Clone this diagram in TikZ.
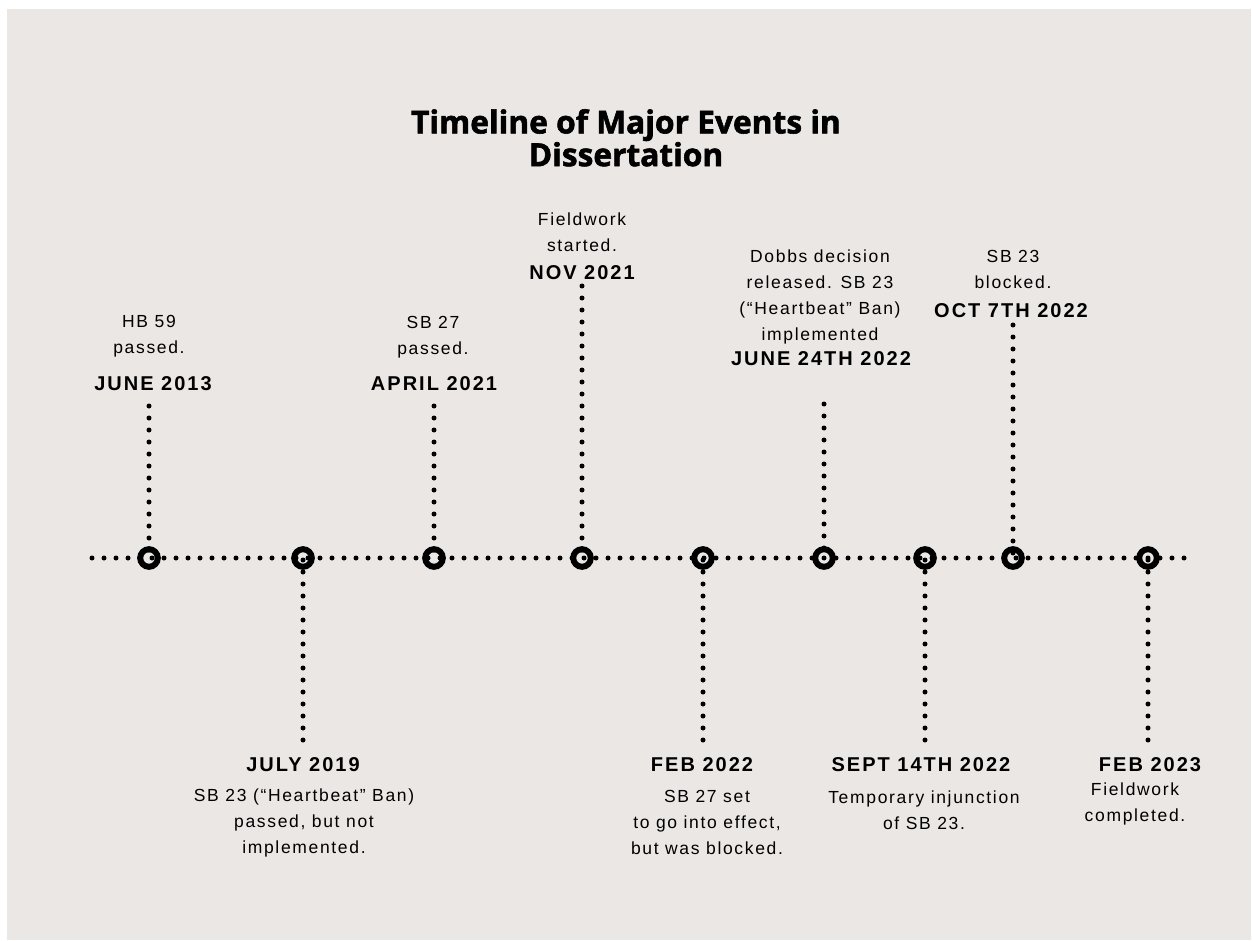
\documentclass[tikz,border=0pt]{standalone}
\usepackage{fontspec}
\setmainfont{Liberation Sans}
\newfontfamily\titlefont[BoldFeatures={FakeBold=1.8}]{Open Sans}
\newfontfamily\datefont[LetterSpace=10]{Liberation Sans}
\newfontfamily\descfont[LetterSpace=9.5]{Liberation Sans}
\definecolor{bggray}{RGB}{235,231,229}
\begin{document}
\begin{tikzpicture}[x=1pt,y=-1pt,
  dotline/.style={line width=5pt,line cap=round,dash pattern=on 0pt off 12pt},
  ring/.style={draw,line width=6pt,circle,minimum size=17.6pt,inner sep=0pt},
  datelbl/.style={anchor=north,inner sep=0pt,align=center,font=\datefont\bfseries\fontsize{20}{26}\selectfont},
  desclbl/.style={anchor=north,inner sep=0pt,align=center,font=\descfont\fontsize{17.5}{26}\selectfont},
  titlelbl/.style={anchor=north,inner sep=0pt,align=center,font=\titlefont\bfseries\fontsize{31.7}{31.5}\selectfont}]
\useasboundingbox (0,0) rectangle (1252,941);
\fill[white] (0,0) rectangle (1252,941);
\fill[bggray] (7,9) rectangle (1251,940);

\node[titlelbl] (title) at (626,109) {Timeline of Major Events in\\Dissertation};

% rings
\foreach \n/\x in {r1/149,r2/303,r3/434,r4/582,r5/703,r6/824,r7/925,r8/1013,r9/1148}
  \node[ring] (\n) at (\x,558) {};

% horizontal timeline
\coordinate (hl) at (92,558);
\coordinate (hr) at (1190,558);
\draw[dotline] (hl) -- (hr);

% vertical connectors
\coordinate (t1) at (149,406);
\coordinate (b2) at (303,740);
\coordinate (t3) at (434,406);
\coordinate (t4) at (582,286);
\coordinate (b5) at (703,740);
\coordinate (t6) at (824,404);
\coordinate (b7) at (925,740);
\coordinate (t8) at (1013,325);
\coordinate (b9) at (1148,740);
\draw[dotline] (t1) -- (r1.center);
\draw[dotline] (b2) -- (r2.center);
\draw[dotline] (t3) -- (r3.center);
\draw[dotline] (t4) -- (r4.center);
\draw[dotline] (b5) -- (r5.center);
\draw[dotline] (t6) -- (r6.center);
\draw[dotline] (b7) -- (r7.center);
\draw[dotline] (t8) -- (r8.center);
\draw[dotline] (b9) -- (r9.center);

% top labels
\node[desclbl] (d1) at (149,315) {HB 59\\passed.};
\node[datelbl] (e1) at (153,376) {JUNE 2013};
\node[desclbl] (d3) at (433,316) {SB 27\\passed.};
\node[datelbl] (e3) at (434,376) {APRIL 2021};
\node[desclbl] (d4) at (582,213) {Fieldwork\\started.};
\node[datelbl] (e4) at (582,265) {NOV 2021};
\node[desclbl] (d6) at (820,250) {Dobbs decision\\released. SB 23\\(“Heartbeat” Ban)\\implemented};
\node[datelbl] (e6) at (821,351) {JUNE 24TH 2022};
\node[desclbl] (d8) at (1013,250) {SB 23\\blocked.};
\node[datelbl] (e8) at (1011,303) {OCT 7TH 2022};

% bottom labels
\node[datelbl] (e2) at (303,757) {JULY 2019};
\node[desclbl] (d2) at (304,789) {SB 23 (“Heartbeat” Ban)\\passed, but not\\implemented.};
\node[datelbl] (e5) at (702,757) {FEB 2022};
\node[desclbl] (d5) at (707,790) {SB 27 set\\to go into effect,\\but was blocked.};
\node[datelbl] (e7) at (921,757) {SEPT 14TH 2022};
\node[desclbl] (d7) at (924,791) {Temporary injunction\\of SB 23.};
\node[datelbl] (e9) at (1150,757) {FEB 2023};
\node[desclbl] (d9) at (1135,783) {Fieldwork\\completed.};
\end{tikzpicture}
\end{document}
